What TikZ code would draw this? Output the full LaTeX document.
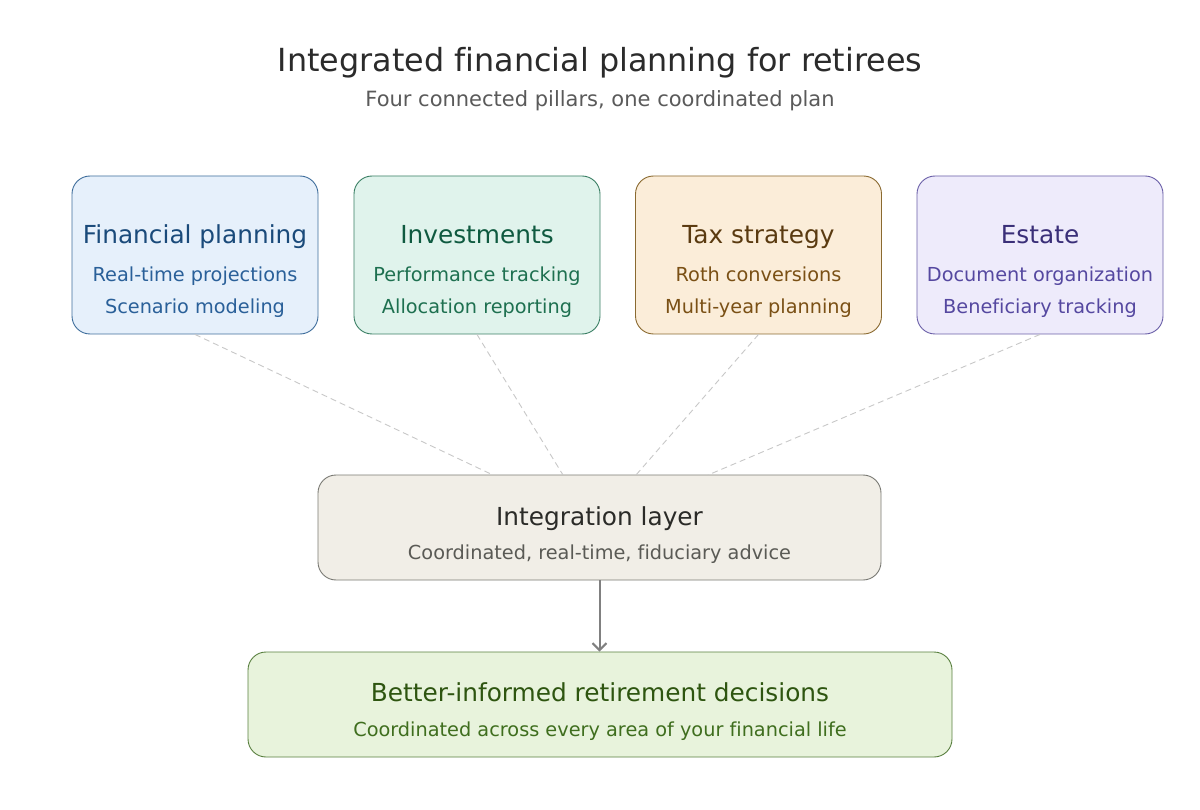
\documentclass[tikz,border=0pt]{standalone}
\usepackage{fontspec}
\setmainfont{DejaVu Sans}[Ligatures=NoCommon]
\usetikzlibrary{arrows.meta}
\definecolor{fpfill}{HTML}{E6F0FB}\definecolor{fpdraw}{HTML}{3F6E9C}\definecolor{fptitle}{HTML}{1A4A7A}\definecolor{fptext}{HTML}{2A6099}
\definecolor{invfill}{HTML}{E0F3EC}\definecolor{invdraw}{HTML}{3A7F64}\definecolor{invtitle}{HTML}{0F5A40}\definecolor{invtext}{HTML}{1E7050}
\definecolor{taxfill}{HTML}{FBEDD9}\definecolor{taxdraw}{HTML}{8A6A30}\definecolor{taxtitle}{HTML}{5A3A10}\definecolor{taxtext}{HTML}{7A5015}
\definecolor{estfill}{HTML}{EEEBFB}\definecolor{estdraw}{HTML}{6A5FA8}\definecolor{esttitle}{HTML}{3A2F78}\definecolor{esttext}{HTML}{5548A0}
\definecolor{intfill}{HTML}{F1EEE7}\definecolor{intdraw}{HTML}{7A7A74}\definecolor{inttitle}{HTML}{2B2B28}\definecolor{inttext}{HTML}{5A5A55}
\definecolor{resfill}{HTML}{E8F3DC}\definecolor{resdraw}{HTML}{5A8040}\definecolor{restitle}{HTML}{2E5510}\definecolor{restext}{HTML}{3F6E1E}
\definecolor{titlecol}{HTML}{2B2B2B}\definecolor{subcol}{HTML}{5A5A5A}
\definecolor{dashcol}{HTML}{C8C8C8}\definecolor{arrcol}{HTML}{808080}
\tikzset{
  pillar/.style={draw, rounded corners=18pt, line width=0.9pt, minimum width=246pt, minimum height=158pt, inner sep=0pt},
  wide/.style={draw, rounded corners=18pt, line width=0.9pt, minimum height=105pt, inner sep=0pt},
  ptitle/.style={font=\fontsize{24.8}{28}\selectfont, inner sep=0pt, anchor=base},
  pline/.style={font=\fontsize{19.3}{23}\selectfont, inner sep=0pt, anchor=base},
  conn/.style={dashcol, dash pattern=on 6pt off 4pt, line width=0.9pt},
}
\begin{document}
\begin{tikzpicture}[x=1pt,y=-1pt]
\useasboundingbox[fill=white] (0,0) rectangle (1200,810);
\node[font=\fontsize{31.8}{36}\selectfont, text=titlecol, inner sep=0pt, anchor=base] (title) at (600,72) {Integrated financial planning for retirees};
\node[font=\fontsize{21}{25}\selectfont, text=subcol, inner sep=0pt, anchor=base] (sub) at (600,107) {Four connected pillars, one coordinated plan};
% pillars
\node[pillar, fill=fpfill, draw=fpdraw] (fp) at (195,255) {};
\node[ptitle, text=fptitle] (fpt) at (195,244) {Financial planning};
\node[pline, text=fptext] (fp1) at (195,282) {Real-time projections};
\node[pline, text=fptext] (fp2) at (195,314) {Scenario modeling};
\node[pillar, fill=invfill, draw=invdraw] (inv) at (477,255) {};
\node[ptitle, text=invtitle] (invt) at (477,244) {Investments};
\node[pline, text=invtext] (inv1) at (477,282) {Performance tracking};
\node[pline, text=invtext] (inv2) at (477,314) {Allocation reporting};
\node[pillar, fill=taxfill, draw=taxdraw] (tax) at (758.5,255) {};
\node[ptitle, text=taxtitle] (taxt) at (758.5,244) {Tax strategy};
\node[pline, text=taxtext] (tax1) at (758.5,282) {Roth conversions};
\node[pline, text=taxtext] (tax2) at (758.5,314) {Multi-year planning};
\node[pillar, fill=estfill, draw=estdraw] (est) at (1040,255) {};
\node[ptitle, text=esttitle] (estt) at (1040,244) {Estate};
\node[pline, text=esttext] (est1) at (1040,282) {Document organization};
\node[pline, text=esttext] (est2) at (1040,314) {Beneficiary tracking};
% integration
\node[wide, minimum width=563pt, fill=intfill, draw=intdraw] (int) at (599.5,527.5) {};
\node[ptitle, text=inttitle] (intt) at (599.5,525) {Integration layer};
\node[pline, text=inttext] (int1) at (599.5,559) {Coordinated, real-time, fiduciary advice};
% result
\node[wide, minimum width=704pt, fill=resfill, draw=resdraw] (res) at (600,704.5) {};
\node[ptitle, text=restitle] (rest) at (600,701) {Better-informed retirement decisions};
\node[pline, text=restext] (res1) at (600,736) {Coordinated across every area of your financial life};
% connectors
\coordinate (i1) at (493,475);
\coordinate (i2) at (563,475);
\coordinate (i3) at (636,475);
\coordinate (i4) at (708,475);
\draw[conn] (fp.south) -- (i1);
\draw[conn] (inv.south) -- (i2);
\draw[conn] (tax.south) -- (i3);
\draw[conn] (est.south) -- (i4);
\draw[arrcol, line width=2pt, -{Straight Barb[length=7pt, width=14pt]}] (int.south) -- (int.south |- res.north);
\end{tikzpicture}
\end{document}
